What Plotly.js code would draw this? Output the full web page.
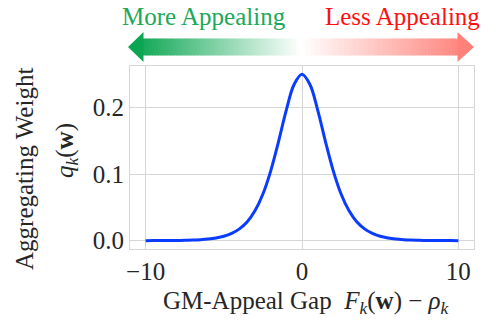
<!DOCTYPE html>
<html>
<head>
<meta charset="utf-8">
<script src="https://cdn.plot.ly/plotly-3.0.1.min.js"></script>
<style>
body{margin:0;background:#fff;}
#probe{position:absolute;left:0;top:0;color:#fff;font-family:'Liberation Serif';font-size:25px;z-index:0;}
#chart{position:relative;z-index:1;}
#chart svg text{font-family:'Liberation Serif' !important;}
</style>
</head>
<body>
<div id="probe">Aggregating Weight 0.1</div>
<div id="chart"></div>
<script>
// Data
const gapValues = [-10,-9.5,-9,-8.5,-8,-7.5,-7,-6.5,-6,-5.5,-5,-4.5,-4,-3.5,-3,-2.5,-2,-1.5,-1,-0.5,0,0.5,1,1.5,2,2.5,3,3.5,4,4.5,5,5.5,6,6.5,7,7.5,8,8.5,9,9.5,10];
const weightValues = [0.0000,0.0001,0.0001,0.0002,0.0003,0.0006,0.0009,0.0015,0.0025,0.0041,0.0066,0.0109,0.0177,0.0284,0.0452,0.0701,0.1050,0.1490,0.1966,0.2350,0.2500,0.2350,0.1966,0.1490,0.1050,0.0701,0.0452,0.0284,0.0177,0.0109,0.0066,0.0041,0.0025,0.0015,0.0009,0.0006,0.0003,0.0002,0.0001,0.0001,0.0000];
const xTicks = [-10, 0, 10];
const xTickLabels = ['−10', '0', '10'];
const yTicks = [0, 0.1, 0.2];
const yTickLabels = ['0.0', '0.1', '0.2'];
const leftLabel = 'More Appealing';
const rightLabel = 'Less Appealing';

const W = 496, H = 323;
const PX = p => p / W;
const PY = p => 1 - p / H;
const FONT = 'Liberation Serif';
const TXT = '#262626';
const GRID = '#d6d6d6';
const tickFont = {family: FONT, size: 25, color: TXT};

// decorative gradient double arrow built from layout shapes (paper coords from pixels)
const GREEN = [0, 162, 74], WHITE = [255, 255, 255], SALMON = [255, 124, 116];
function mix(a, b, t) { return 'rgb(' + a.map((v, i) => Math.round(v + (b[i] - v) * t)).join(',') + ')'; }
function arrowColor(t) { return t < 0.5 ? mix(GREEN, WHITE, t / 0.5) : mix(WHITE, SALMON, (t - 0.5) / 0.5); }
const shapes = [];
const x0 = 143, x1 = 458, tipL = 128, tipR = 474, step = 3;
for (let p = x0; p < x1; p += step) {
  const q = Math.min(p + step + 0.6, x1);
  const t = (p + step / 2 - tipL) / (tipR - tipL);
  shapes.push({type: 'rect', xref: 'paper', yref: 'paper', x0: PX(p), x1: PX(q), y0: PY(55.5), y1: PY(38.5),
    fillcolor: arrowColor(t), line: {width: 0}, layer: 'above'});
}
shapes.push({type: 'path', xref: 'paper', yref: 'paper', layer: 'above', line: {width: 0}, fillcolor: arrowColor(0.02),
  path: `M ${PX(tipL)} ${PY(47)} L ${PX(x0 + 0.5)} ${PY(32)} L ${PX(x0 + 0.5)} ${PY(62)} Z`});
shapes.push({type: 'path', xref: 'paper', yref: 'paper', layer: 'above', line: {width: 0}, fillcolor: arrowColor(0.98),
  path: `M ${PX(tipR)} ${PY(47)} L ${PX(x1 - 0.5)} ${PY(32)} L ${PX(x1 - 0.5)} ${PY(62)} Z`});

const traces = [
  {
    x: gapValues, y: weightValues, type: 'scatter', mode: 'lines',
    line: {color: '#0a3cff', width: 3, shape: 'spline'},
    hoverinfo: 'skip'
  }
];

const layout = {
  width: W, height: H,
  margin: {l: 0, r: 0, t: 0, b: 0},
  paper_bgcolor: 'rgba(255,255,255,0)',
  plot_bgcolor: 'rgba(255,255,255,0)',
  showlegend: false,
  font: {family: FONT, color: TXT},
  xaxis: {
    domain: [PX(130), PX(474)], range: [-11, 11],
    tickvals: xTicks, ticktext: xTickLabels, ticks: '', showgrid: true, gridcolor: GRID, gridwidth: 1.2,
    zeroline: false, showline: true, mirror: true, linecolor: GRID, linewidth: 1.2,
    tickfont: tickFont
  },
  yaxis: {
    domain: [1 - 249 / H, 1 - 66 / H], range: [-0.0125, 0.2625],
    tickvals: yTicks, ticktext: yTickLabels, ticks: '', showgrid: true, gridcolor: GRID, gridwidth: 1.2,
    zeroline: false, showline: true, mirror: true, linecolor: GRID, linewidth: 1.2,
    tickfont: tickFont
  },
  shapes: shapes,
  annotations: [
    {text: leftLabel, xref: 'paper', yref: 'paper', x: PX(204), y: PY(16), xanchor: 'center', yanchor: 'middle', showarrow: false,
     font: {family: FONT, size: 25, color: '#1ea858'}},
    {text: rightLabel, xref: 'paper', yref: 'paper', x: PX(402), y: PY(16), xanchor: 'center', yanchor: 'middle', showarrow: false,
     font: {family: FONT, size: 25, color: '#ff1010'}},
    {text: 'Aggregating Weight', xref: 'paper', yref: 'paper', x: PX(24), y: PY(169), xanchor: 'center', yanchor: 'middle', textangle: -90, showarrow: false,
     font: {family: FONT, size: 25, color: TXT}},
    {text: '<i>q</i><sub><i>k</i></sub>(<b>w</b>)', xref: 'paper', yref: 'paper', x: PX(66), y: PY(151), xanchor: 'center', yanchor: 'middle', textangle: -90, showarrow: false,
     font: {family: FONT, size: 25, color: TXT}},
    {text: 'GM-Appeal Gap  <i>F</i><sub><i>k</i></sub>(<b>w</b>) − <i>ρ</i><sub><i>k</i></sub>', xref: 'paper', yref: 'paper', x: PX(306), y: PY(302), xanchor: 'center', yanchor: 'middle', showarrow: false,
     font: {family: FONT, size: 25, color: TXT}}
  ]
};

Plotly.newPlot('chart', traces, layout, {displayModeBar: false});
</script>
</body>
</html>
